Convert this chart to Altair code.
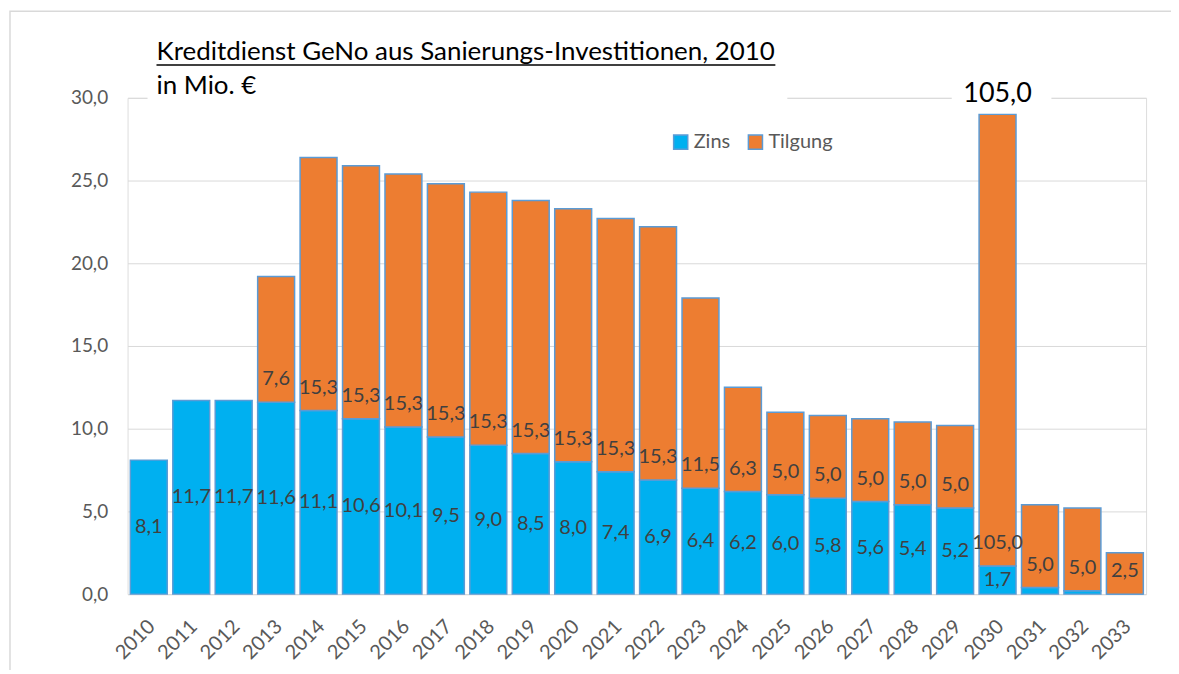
import altair as alt
import pandas as pd

# ---- data ----
years = [str(y) for y in range(2010, 2034)]
zins = [8.1, 11.7, 11.7, 11.6, 11.1, 10.6, 10.1, 9.5, 9.0, 8.5, 8.0, 7.4,
        6.9, 6.4, 6.2, 6.0, 5.8, 5.6, 5.4, 5.2, 1.7, 0.4, 0.2, 0.0]
tilgung = [0.0, 0.0, 0.0, 7.6, 15.3, 15.3, 15.3, 15.3, 15.3, 15.3, 15.3, 15.3,
           15.3, 11.5, 6.3, 5.0, 5.0, 5.0, 5.0, 5.0, 105.0, 5.0, 5.0, 2.5]
series = ["Zins", "Tilgung"]
colors = ["#00B0F0", "#ED7D31"]
y_ticks = [0, 5, 10, 15, 20, 25, 30]
bar_cap = 29.0          # off-scale bar (2030) is cut off here in the original
zins_label_last = "2030"  # no Zins labels after this year
title_line1 = "Kreditdienst GeNo aus Sanierungs-Investitionen, 2010"
title_line2 = "in Mio. €"


def de(v):
    return f"{v:.1f}".replace(".", ",")


rows = []
for yr, z, t in zip(years, zins, tilgung):
    rows.append({"year": yr, "series": "Zins", "y0": 0.0, "y1": z,
                 "label": de(z) if yr <= zins_label_last else "",
                 "ly": z / 2})
    if t > 0:
        rows.append({"year": yr, "series": "Tilgung", "y0": z,
                     "y1": min(z + t, bar_cap), "label": de(t), "ly": z})
df = pd.DataFrame(rows)
over = pd.DataFrame([{"year": yr, "label": de(t)}
                     for yr, z, t in zip(years, zins, tilgung) if z + t > bar_cap])

FONT = "Lato"
W, H = 1022, 498

xenc = alt.X("year:N", sort=years,
             scale=alt.Scale(paddingInner=0.13, paddingOuter=0.065),
             axis=alt.Axis(title=None, labelAngle=-45, labelFontSize=20,
                           labelColor="#595959", labelFont=FONT, ticks=False,
                           domainColor="#D9D9D9", domainWidth=1, labelPadding=22,
                           labelOffset=-4, grid=False))
yscale = alt.Scale(domain=[0, 30], nice=False)

bars = alt.Chart(df).mark_bar(stroke="#5B9BD5", strokeWidth=1.5).encode(
    x=xenc,
    y=alt.Y("y0:Q", scale=yscale,
            axis=alt.Axis(title=None, values=y_ticks, grid=True, gridColor="#D9D9D9",
                          gridWidth=1, domain=False, ticks=False, labelFontSize=19,
                          labelColor="#595959", labelFont=FONT, labelPadding=20,
                          labelExpr="replace(format(datum.value, '.1f'), '.', ',')")),
    y2="y1:Q",
    color=alt.Color("series:N", scale=alt.Scale(domain=series, range=colors),
                    sort=series,
                    legend=alt.Legend(title=None, orient="none", legendX=545, legendY=34,
                                      direction="horizontal", symbolType="square",
                                      symbolSize=200, symbolStrokeColor="#5B9BD5",
                                      symbolStrokeWidth=1.5, symbolOpacity=1,
                                      labelFontSize=20, labelColor="#595959",
                                      labelFont=FONT, labelOffset=3, columnPadding=14)),
    order=alt.Order("y0:Q"),
)

zins_lbl = alt.Chart(df[df.series == "Zins"]).mark_text(
    fontSize=20, color="#404040", font=FONT, baseline="middle").encode(
    x=alt.X("year:N", sort=years), y=alt.Y("ly:Q", scale=yscale), text="label:N")

tilg_lbl = alt.Chart(df[df.series == "Tilgung"]).mark_text(
    fontSize=20, color="#404040", font=FONT, baseline="middle", dy=-23).encode(
    x=alt.X("year:N", sort=years), y=alt.Y("ly:Q", scale=yscale), text="label:N")

# white boxes masking the top gridline behind the title and the over-scale label
masks = alt.Chart(pd.DataFrame({"k": [0, 1], "x": [20, 827], "x2": [662, 927],
                                "y": [-70, -14], "y2": [6, 6]})).mark_rect(
    color="white").encode(x=alt.X("x:Q", scale=None), x2="x2:Q",
                          y=alt.Y("y:Q", scale=None), y2="y2:Q")

over_lbl = alt.Chart(over).mark_text(
    fontSize=27, color="black", font=FONT, baseline="middle").encode(
    x=alt.X("year:N", sort=years), y=alt.value(-4), text="label:N")

title1 = alt.Chart(pd.DataFrame({"t": [title_line1]})).mark_text(
    fontSize=26, color="black", font=FONT, align="left", baseline="alphabetic").encode(
    x=alt.value(29), y=alt.value(-38), text="t:N")
title2 = alt.Chart(pd.DataFrame({"t": [title_line2]})).mark_text(
    fontSize=26, color="black", font=FONT, align="left", baseline="alphabetic").encode(
    x=alt.value(29), y=alt.value(-4), text="t:N")
underline = alt.Chart(pd.DataFrame({"a": [0]})).mark_rule(
    color="black", strokeWidth=1.5).encode(
    x=alt.value(29), x2=alt.value(650), y=alt.value(-33))

border = alt.Chart(pd.DataFrame({"a": [0]})).mark_rect(
    fill=None, stroke="#D9D9D9", strokeWidth=1.5).encode(
    x=alt.value(-118), x2=alt.value(1200), y=alt.value(-87), y2=alt.value(700))

chart = alt.layer(
    bars, masks, zins_lbl, tilg_lbl, over_lbl, title1, title2, underline, border
).properties(
    width=W, height=H,
    autosize=alt.AutoSizeParams(type="none"),
    padding={"left": 120, "top": 89, "right": 25, "bottom": 75},
).configure_view(stroke=None).configure(background="white")

chart.save("out.html", embed_options={"renderer": "svg", "actions": False})
